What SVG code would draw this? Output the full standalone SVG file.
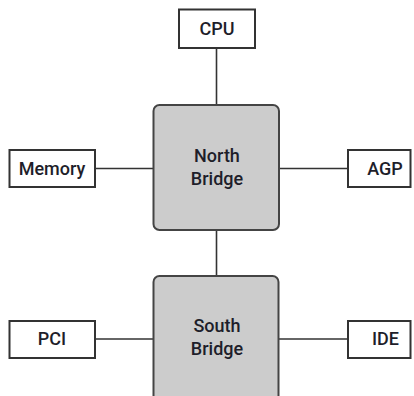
<svg xmlns="http://www.w3.org/2000/svg" width="414" height="396" viewBox="0 0 414 396">
<style>
.box{fill:#ffffff;stroke:#333333;stroke-width:2}
.chip{fill:#cccccc;stroke:#444444;stroke-width:2}
.lbl{font-family:Roboto,"Liberation Sans",sans-serif;font-size:18px;font-weight:500;fill:#1e1e2a;text-anchor:middle}
.wire{stroke:#333333;stroke-width:1.6;fill:none}
</style>
<rect width="414" height="396" fill="#ffffff"/>
<g id="connectors">
<line class="wire" x1="216.5" y1="48" x2="216.5" y2="105"/>
<line class="wire" x1="95" y1="168.5" x2="153" y2="168.5"/>
<line class="wire" x1="279" y1="168.5" x2="348" y2="168.5"/>
<line class="wire" x1="216.5" y1="230" x2="216.5" y2="276"/>
<line class="wire" x1="95" y1="339" x2="153" y2="339"/>
<line class="wire" x1="279" y1="339" x2="348" y2="339"/>
</g>
<g id="cpu">
<rect class="box" x="179" y="9.5" width="76" height="38.5"/>
<text class="lbl" x="217" y="35">CPU</text>
</g>
<g id="north-bridge">
<rect class="chip" x="153.5" y="105" width="125.5" height="125" rx="6"/>
<text class="lbl" x="217" y="162">North</text>
<text class="lbl" x="217" y="185">Bridge</text>
</g>
<g id="memory">
<rect class="box" x="9.5" y="150" width="85.5" height="37"/>
<text class="lbl" x="52" y="174.5">Memory</text>
</g>
<g id="agp">
<rect class="box" x="348" y="150" width="62.5" height="37"/>
<text class="lbl" x="385" y="175">AGP</text>
</g>
<g id="south-bridge">
<rect class="chip" x="153.5" y="276" width="125" height="140" rx="6"/>
<text class="lbl" x="217" y="332">South</text>
<text class="lbl" x="217" y="355">Bridge</text>
</g>
<g id="pci">
<rect class="box" x="9.5" y="321" width="85.5" height="37"/>
<text class="lbl" x="52" y="345">PCI</text>
</g>
<g id="ide">
<rect class="box" x="348" y="321" width="62.5" height="37"/>
<text class="lbl" x="385.5" y="345">IDE</text>
</g>
</svg>
